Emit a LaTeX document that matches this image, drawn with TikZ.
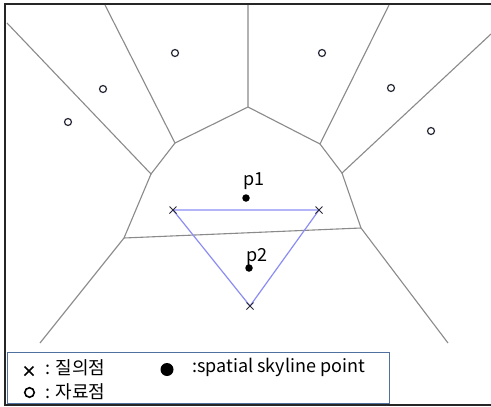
\documentclass[tikz,border=0pt]{standalone}
\usepackage{fontspec}
\setmainfont{Noto Sans CJK KR}
\definecolor{vorgray}{HTML}{8A8A8A}
\definecolor{triblue}{HTML}{8C8CF5}
\definecolor{markdark}{HTML}{2A2A3A}
\definecolor{legendblue}{HTML}{5070A0}
\begin{document}
\begin{tikzpicture}[x=1pt,y=-1pt,
  vor/.style={draw=vorgray,line width=1.1pt},
  tri/.style={draw=triblue,line width=1.2pt},
  datapt/.style={circle,draw=markdark,fill=white,line width=1.2pt,minimum size=7pt,inner sep=0pt},
  skypt/.style={circle,fill=black,minimum size=7.5pt,inner sep=0pt},
  qmark/.style={draw=markdark,line width=1pt},
  lbl/.style={font=\fontsize{18}{21}\selectfont,inner sep=0pt,anchor=base west}]
\useasboundingbox (0,0) rectangle (491,407);
\fill[white] (0,0) rectangle (491,407);
% frame
\draw[line width=1.8pt,draw=black!85] (495,4) -- (5,4) -- (5,405) -- (495,405);
% voronoi vertices
\coordinate (A) at (175,143);
\coordinate (B) at (248,107);
\coordinate (C) at (320,144);
\coordinate (D) at (342,173);
\coordinate (E) at (361,228);
\coordinate (F) at (124,238);
\coordinate (G) at (151,174);
\coordinate (a1) at (7,23);
\coordinate (a2) at (105,5);
\coordinate (a3) at (248,5);
\coordinate (a4) at (389,5);
\coordinate (a5) at (491,34);
\coordinate (a6) at (448,343);
\coordinate (a7) at (40,343);
\draw[vor] (a1) -- (G) -- (A) -- (a2);
\draw[vor] (A) -- (B) -- (a3);
\draw[vor] (B) -- (C) -- (a4);
\draw[vor] (C) -- (D) -- (a5);
\draw[vor] (D) -- (E) -- (a6);
\draw[vor] (E) -- (F) -- (G);
\draw[vor] (F) -- (a7);
% query triangle
\coordinate (q1) at (173,210);
\coordinate (q2) at (319,210);
\coordinate (q3) at (250,306);
\draw[tri] (q1) -- (q2) -- (q3) -- cycle;
\foreach \q in {q1,q2,q3}{
  \draw[qmark] ([shift={(-3.5,-3.5)}]\q) -- ([shift={(3.5,3.5)}]\q);
  \draw[qmark] ([shift={(-3.5,3.5)}]\q) -- ([shift={(3.5,-3.5)}]\q);
}
% data points
\node[datapt] (d1) at (68,122) {};
\node[datapt] (d2) at (103,89) {};
\node[datapt] (d3) at (175,53) {};
\node[datapt] (d4) at (322,53) {};
\node[datapt] (d5) at (391,88) {};
\node[datapt] (d6) at (431,131) {};
% skyline points
\node[skypt] (p1) at (246,198) {};
\node[skypt] (p2) at (249,268) {};
\node[lbl] (p1l) at (243,185) {p1};
\node[lbl] (p2l) at (246,261) {p2};
% legend
\draw[draw=legendblue,line width=1pt] (7,352) rectangle (389,403);
\coordinate (lx) at (29,371);
\draw[line width=1.6pt,draw=black] ([shift={(-4.5,-4.5)}]lx) -- ([shift={(4.5,4.5)}]lx);
\draw[line width=1.6pt,draw=black] ([shift={(-4.5,4.5)}]lx) -- ([shift={(4.5,-4.5)}]lx);
\node[circle,draw=black,line width=1.6pt,minimum size=9.5pt,inner sep=0pt] (lo) at (29.5,392.5) {};
\node[circle,fill=black,minimum size=13pt,inner sep=0pt] (ld) at (167,369.5) {};
\node[lbl] (t1) at (45,374) {: 질의점};
\node[lbl] (t2) at (45,398) {: 자료점};
\node[lbl] (t3) at (192,372) {:spatial skyline point};
\end{tikzpicture}
\end{document}
